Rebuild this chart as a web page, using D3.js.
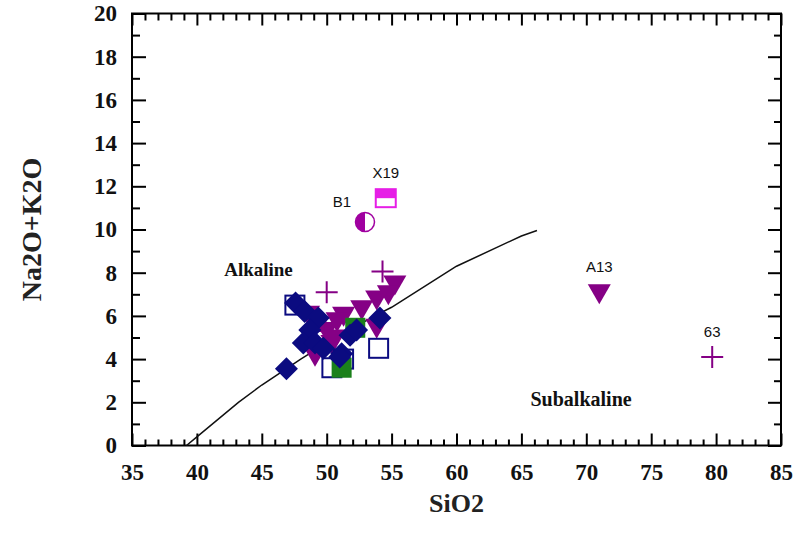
<!DOCTYPE html>
<html>
<head>
<meta charset="utf-8">
<script src="https://cdn.jsdelivr.net/npm/d3@7"></script>
<style>
  body { margin: 0; background: #fff; }
  .tick text { font-family: "Liberation Serif", "Times New Roman", serif; font-weight: bold; font-size: 23px; fill: #111; }
  .tick line { stroke: #000; stroke-width: 2; }
</style>
</head>
<body>
<div id="chart"></div>
<script>
// SiO2 vs Na2O+K2O (TAS), Irvine & Baragar alkaline / subalkaline divide
const divideLine = [[39.2, 0], [40, 0.4], [43.2, 2.0], [45, 2.8], [48, 4.0], [50, 4.75],
  [53.7, 6.0], [55, 6.4], [60, 8.3], [65, 9.7], [66.2, 9.95]];

// navy filled diamonds
const diamonds = [[46.9, 3.55], [47.6, 6.6], [48.3, 6.2], [49.35, 5.9], [48.7, 5.35],
  [48.2, 4.75], [49.1, 4.75], [49.75, 4.5], [51.15, 4.25], [51.8, 5.1], [52.3, 5.35],
  [54.1, 5.9], [51.0, 4.1]];
// navy open squares
const openSquares = [[47.55, 6.5], [50.4, 3.6], [51.3, 4.0], [54.0, 4.5]];
// green filled squares
const greenSquares = [[52.2, 5.45], [51.15, 3.6]];
// purple inverted triangles
const triangles = [[55.25, 7.5], [54.75, 7.05], [53.85, 6.8], [52.7, 6.35], [51.3, 6.05],
  [48.6, 6.1], [50.0, 5.35], [50.4, 4.75], [49.1, 4.2], [50.8, 5.8], [53.85, 5.5],
  [50.6, 5.0], [71.0, 7.1]];
// purple crosses
const crosses = [[50.0, 7.1], [54.3, 8.05], [49.9, 5.3], [79.7, 4.1]];
// labelled samples
const sampleNames = ["B1", "X19", "A13", "63"];
const sampleSiO2 = [52.95, 54.55, 71.0, 79.7];
const sampleTotal = [10.35, 11.45, 7.1, 4.1];
// field names
const fieldNames = ["Alkaline", "Subalkaline"];
const fieldSiO2 = [42.1, 65.7];
const fieldTotal = [7.85, 1.85];

const xTicks = d3.range(35, 86, 5);
const yTicks = d3.range(0, 21, 2);

const width = 797, height = 539;
const margin = { top: 13.5, right: 16, bottom: 93.5, left: 132 };
const w = width - margin.left - margin.right;
const h = height - margin.top - margin.bottom;

const svg = d3.select("#chart").append("svg")
  .attr("width", width).attr("height", height);
const g = svg.append("g").attr("transform", `translate(${margin.left},${margin.top})`);

const x = d3.scaleLinear().domain([35, 85]).range([0, w]);
const y = d3.scaleLinear().domain([0, 20]).range([h, 0]);

// minor ticks (inward, all four sides)
const xMinor = d3.range(35, 86, 1).filter(d => d % 5 !== 0);
const yMinor = d3.range(1, 20, 2);
g.append("g").attr("transform", `translate(0,${h})`)
  .call(d3.axisBottom(x).tickValues(xMinor).tickSize(-6).tickFormat(""));
g.append("g")
  .call(d3.axisTop(x).tickValues(xMinor).tickSize(-7).tickFormat(""));
g.append("g")
  .call(d3.axisLeft(y).tickValues(yMinor).tickSize(-8).tickFormat(""));
g.append("g").attr("transform", `translate(${w},0)`)
  .call(d3.axisRight(y).tickValues(yMinor).tickSize(-7).tickFormat(""));

// major ticks with labels
g.append("g").attr("transform", `translate(0,${h})`)
  .call(d3.axisBottom(x).tickValues(xTicks).tickSize(-12).tickPadding(18));
g.append("g")
  .call(d3.axisTop(x).tickValues(xTicks).tickSize(-12).tickFormat(""));
g.append("g")
  .call(d3.axisLeft(y).tickValues(yTicks).tickSize(-14).tickPadding(15));
g.append("g").attr("transform", `translate(${w},0)`)
  .call(d3.axisRight(y).tickValues(yTicks).tickSize(-13).tickFormat(""));

g.selectAll(".domain").remove();

g.append("rect")
  .attr("width", w).attr("height", h)
  .attr("fill", "none").attr("stroke", "#000").attr("stroke-width", 2);

// divide line
g.append("path")
  .datum(divideLine)
  .attr("fill", "none").attr("stroke", "#111").attr("stroke-width", 1.5)
  .attr("d", d3.line().x(d => x(d[0])).y(d => y(d[1])));

const navy = "#0b0b80", purple = "#850085", green = "#1b801b", magenta = "#e61ee6";

// triangles
g.selectAll(".tri").data(triangles).join("path")
  .attr("class", "tri")
  .attr("transform", d => `translate(${x(d[0])},${y(d[1])})`)
  .attr("d", "M-11.5,-8L11.5,-8L0,12Z")
  .attr("fill", purple);

// crosses
g.selectAll(".cross").data(crosses).join("path")
  .attr("class", "cross")
  .attr("transform", d => `translate(${x(d[0])},${y(d[1])})`)
  .attr("d", "M-11,0H11M0,-11V11")
  .attr("stroke", purple).attr("stroke-width", 2).attr("fill", "none");

// open squares
g.selectAll(".osq").data(openSquares).join("rect")
  .attr("class", "osq")
  .attr("x", d => x(d[0]) - 9.5).attr("y", d => y(d[1]) - 9.5)
  .attr("width", 19).attr("height", 19)
  .attr("fill", "#fff").attr("stroke", navy).attr("stroke-width", 2);

// green squares
g.selectAll(".gsq").data(greenSquares).join("rect")
  .attr("class", "gsq")
  .attr("x", d => x(d[0]) - 10).attr("y", d => y(d[1]) - 10)
  .attr("width", 20).attr("height", 20)
  .attr("fill", green);

// diamonds
g.selectAll(".dia").data(diamonds).join("path")
  .attr("class", "dia")
  .attr("transform", d => `translate(${x(d[0])},${y(d[1])})`)
  .attr("d", "M0,-11.5L11.5,0L0,11.5L-11.5,0Z")
  .attr("fill", navy);

// B1: half-filled circle
const b1 = g.append("g").attr("transform", `translate(${x(sampleSiO2[0])},${y(sampleTotal[0])})`);
b1.append("circle").attr("r", 9.5).attr("fill", "#fff").attr("stroke", "#a000a0").attr("stroke-width", 1.5);
b1.append("path").attr("d", "M0,-9.5A9.5,9.5 0 0 0 0,9.5Z").attr("fill", "#a000a0");

// X19: half-filled square
const x19 = g.append("g").attr("transform", `translate(${x(sampleSiO2[1])},${y(sampleTotal[1])})`);
x19.append("rect").attr("x", -10).attr("y", -9).attr("width", 20).attr("height", 18)
  .attr("fill", "#fff").attr("stroke", magenta).attr("stroke-width", 2);
x19.append("rect").attr("x", -10).attr("y", -9).attr("width", 20).attr("height", 9)
  .attr("fill", magenta);

// sample labels
const labelOffsets = [[-23, -15], [0, -20], [0, -20], [0, -20]];
g.selectAll(".slabel").data(sampleNames).join("text")
  .attr("class", "slabel")
  .attr("x", (d, i) => x(sampleSiO2[i]) + labelOffsets[i][0])
  .attr("y", (d, i) => y(sampleTotal[i]) + labelOffsets[i][1])
  .attr("text-anchor", "middle")
  .style("font-family", "Liberation Sans, Arial, sans-serif")
  .style("font-size", "15px")
  .attr("fill", "#111")
  .text(d => d);

// field labels
g.selectAll(".flabel").data(fieldNames).join("text")
  .attr("class", "flabel")
  .attr("x", (d, i) => x(fieldSiO2[i]))
  .attr("y", (d, i) => y(fieldTotal[i]))
  .style("font-family", "Liberation Serif, Times New Roman, serif")
  .style("font-weight", "bold")
  .style("font-size", (d, i) => i === 0 ? "19px" : "20px")
  .attr("fill", "#111")
  .text(d => d);

// axis titles
svg.append("text")
  .attr("x", margin.left + w / 2).attr("y", 512)
  .attr("text-anchor", "middle")
  .style("font-family", "Liberation Serif, Times New Roman, serif")
  .style("font-weight", "bold").style("font-size", "26px")
  .attr("fill", "#222")
  .text("SiO2");

svg.append("text")
  .attr("transform", `translate(41,${margin.top + h / 2}) rotate(-90)`)
  .attr("text-anchor", "middle")
  .style("font-family", "Liberation Serif, Times New Roman, serif")
  .style("font-weight", "bold").style("font-size", "28px")
  .attr("fill", "#222")
  .text("Na2O+K2O");
</script>
</body>
</html>
